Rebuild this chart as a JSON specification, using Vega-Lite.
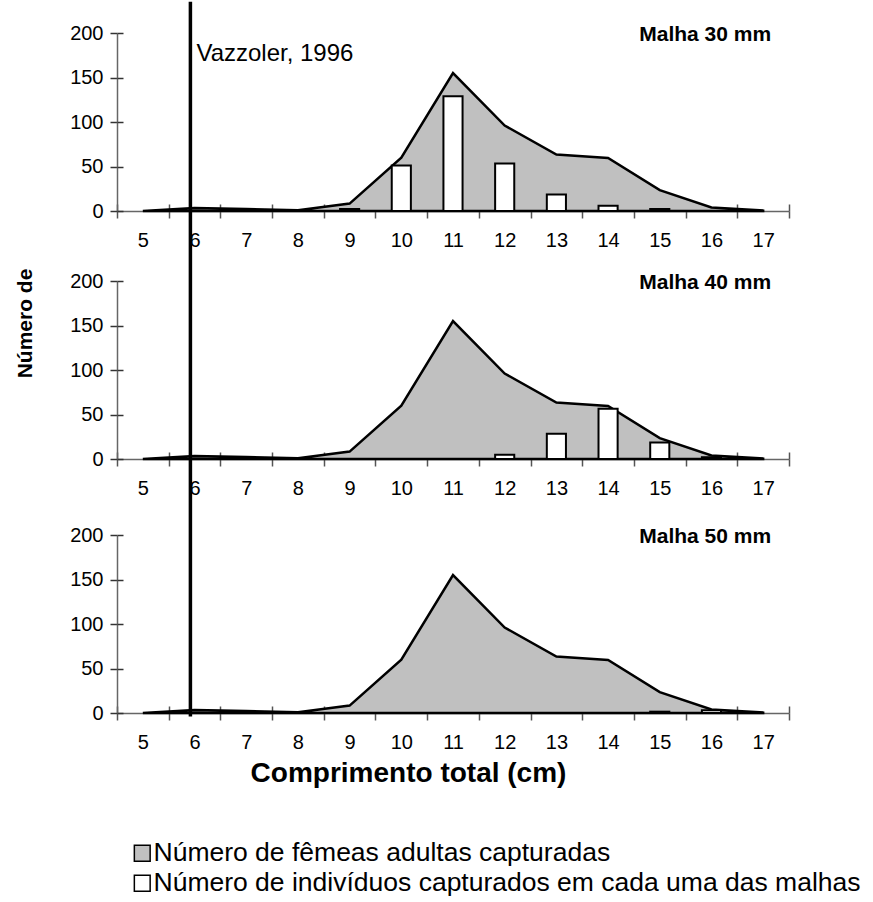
{
  "$schema": "https://vega.github.io/schema/vega-lite/v6.json",
  "autosize": {"type": "pad"},
  "padding": {"left": 13, "top": 0, "right": 10, "bottom": 10},
  "background": "white",
  "config": {
    "font": "Liberation Sans",
    "view": {"stroke": null},
    "axis": {"labelFont": "Liberation Sans", "titleFont": "Liberation Sans", "labelColor": "black", "titleColor": "black"},
    "legend": {"labelFont": "Liberation Sans"}
  },
  "datasets": {
    "femeas": [
      {"c": 5, "n": 0}, {"c": 6, "n": 3.4}, {"c": 7, "n": 2.3}, {"c": 8, "n": 0.8},
      {"c": 9, "n": 8.3}, {"c": 10, "n": 60}, {"c": 11, "n": 155}, {"c": 12, "n": 96},
      {"c": 13, "n": 63.5}, {"c": 14, "n": 59.5}, {"c": 15, "n": 23.5}, {"c": 16, "n": 4},
      {"c": 17, "n": 0.5}
    ],
    "malhas": [
      {"malha": "30 mm", "c": 9, "n": 2.3}, {"malha": "30 mm", "c": 10, "n": 51},
      {"malha": "30 mm", "c": 11, "n": 129}, {"malha": "30 mm", "c": 12, "n": 53.5},
      {"malha": "30 mm", "c": 13, "n": 18.4}, {"malha": "30 mm", "c": 14, "n": 6},
      {"malha": "30 mm", "c": 15, "n": 2.3},
      {"malha": "40 mm", "c": 12, "n": 4.9}, {"malha": "40 mm", "c": 13, "n": 28.5},
      {"malha": "40 mm", "c": 14, "n": 56.5}, {"malha": "40 mm", "c": 15, "n": 18.4},
      {"malha": "40 mm", "c": 16, "n": 2},
      {"malha": "50 mm", "c": 15, "n": 1.5}, {"malha": "50 mm", "c": 16, "n": 3}
    ],
    "referencia": [{"c": 6, "autor": "Vazzoler, 1996"}]
  },
  "bounds": "flush",
  "spacing": 70,
  "vconcat": [
    {
      "width": 672, "height": 178,
      "resolve": {"axis": {"x": "independent", "y": "independent"}},
      "layer": [
        {
          "data": {"name": "femeas"},
          "mark": {"type": "area", "stroke": "black", "strokeWidth": 2.5, "strokeJoin": "miter"},
          "encoding": {
            "x": {"field": "c", "type": "ordinal", "bandPosition": 0.5,
                  "scale": {"type": "band", "paddingInner": 0, "paddingOuter": 0, "domain": [5,6,7,8,9,10,11,12,13,14,15,16,17]},
                  "axis": {"orient": "bottom", "title": null, "tickBand": "extent", "labelAngle": 0, "tickSize": 7, "labelPadding": 12, "labelFontSize": 20, "domainColor": "#666", "domainWidth": 1.5, "tickColor": "#555", "tickWidth": 1.5, "grid": false}},
            "y": {"field": "n", "type": "quantitative", "scale": {"domain": [0, 200], "nice": false},
                  "axis": {"orient": "left", "title": null, "values": [0, 50, 100, 150, 200], "tickSize": 7, "labelPadding": 7, "labelFontSize": 20, "domainColor": "#666", "domainWidth": 1.5, "tickColor": "#333", "tickWidth": 1.5, "grid": false}},
            "fill": {"datum": "Número de fêmeas adultas capturadas", "type": "nominal",
                     "scale": {"domain": ["Número de fêmeas adultas capturadas", "Número de indivíduos capturados em cada uma das malhas"], "range": ["#c0c0c0", "#ffffff"]},
                     "legend": {"orient": "none", "legendX": 12, "legendY": 807, "direction": "vertical", "title": null, "symbolType": "square", "symbolSize": 250, "symbolStrokeColor": "#333", "symbolStrokeWidth": 1.5, "labelFontSize": 26.5, "labelLimit": 1000, "labelOffset": -2, "rowPadding": 3, "labelColor": "black"}}
          }
        },
        {
          "data": {"name": "malhas"},
          "transform": [{"filter": "datum.malha === '30 mm'"}],
          "mark": {"type": "bar", "stroke": "black", "strokeWidth": 2, "width": {"band": 0.37}},
          "encoding": {
            "x": {"field": "c", "type": "ordinal",
                  "axis": {"orient": "bottom", "title": null, "tickBand": "extent", "tickSize": -7, "labels": false, "domain": false, "tickColor": "#555", "tickWidth": 1.5, "grid": false}},
            "y": {"field": "n", "type": "quantitative",
                  "axis": {"orient": "left", "title": null, "values": [0, 50, 100, 150, 200], "tickSize": -6, "labels": false, "domain": false, "tickColor": "#333", "tickWidth": 1.5, "grid": false}},
            "fill": {"datum": "Número de indivíduos capturados em cada uma das malhas", "type": "nominal"}
          }
        },
        {
          "data": {"name": "referencia"},
          "mark": {"type": "rule", "stroke": "black", "strokeWidth": 3.5},
          "encoding": {
            "x": {"field": "c", "type": "ordinal", "bandPosition": 0.42, "axis": null},
            "y": {"datum": 235, "type": "quantitative", "axis": null},
            "y2": {"datum": 0}
          }
        },
        {
          "data": {"name": "referencia"},
          "mark": {"type": "text", "align": "left", "baseline": "alphabetic", "fontSize": 24, "dx": 6, "color": "black"},
          "encoding": {
            "x": {"field": "c", "type": "ordinal", "bandPosition": 0.42, "axis": null},
            "y": {"datum": 168, "type": "quantitative", "axis": null},
            "text": {"field": "autor"}
          }
        },
        {
          "data": {"values": [{}]},
          "mark": {"type": "text", "align": "right", "baseline": "alphabetic", "fontSize": 21, "fontWeight": "bold", "dx": 8, "color": "black"},
          "encoding": {
            "x": {"datum": 17, "type": "ordinal", "axis": null},
            "y": {"datum": 191, "type": "quantitative", "axis": null},
            "text": {"datum": "Malha 30 mm"}
          }
        }
      ]
    },
    {
      "bounds": "flush",
      "spacing": 76,
      "vconcat": [
        {
          "width": 672, "height": 178,
          "resolve": {"axis": {"x": "independent", "y": "independent"}},
          "layer": [
            {
              "data": {"name": "femeas"},
              "mark": {"type": "area", "stroke": "black", "strokeWidth": 2.5, "strokeJoin": "miter"},
              "encoding": {
                "x": {"field": "c", "type": "ordinal", "bandPosition": 0.5,
                      "scale": {"type": "band", "paddingInner": 0, "paddingOuter": 0, "domain": [5,6,7,8,9,10,11,12,13,14,15,16,17]},
                      "axis": {"orient": "bottom", "title": null, "tickBand": "extent", "labelAngle": 0, "tickSize": 7, "labelPadding": 12, "labelFontSize": 20, "domainColor": "#666", "domainWidth": 1.5, "tickColor": "#555", "tickWidth": 1.5, "grid": false}},
                "y": {"field": "n", "type": "quantitative", "scale": {"domain": [0, 200], "nice": false},
                      "axis": {"orient": "left", "title": "Número de", "titleFontSize": 21, "titleFontWeight": "bold", "titleAngle": -90, "titleX": -92, "titleY": 42, "titleBaseline": "middle", "titleAlign": "center",
                               "values": [0, 50, 100, 150, 200], "tickSize": 7, "labelPadding": 7, "labelFontSize": 20, "domainColor": "#666", "domainWidth": 1.5, "tickColor": "#333", "tickWidth": 1.5, "grid": false}},
                "fill": {"datum": "Número de fêmeas adultas capturadas", "type": "nominal"}
              }
            },
            {
              "data": {"name": "malhas"},
              "transform": [{"filter": "datum.malha === '40 mm'"}],
              "mark": {"type": "bar", "stroke": "black", "strokeWidth": 2, "width": {"band": 0.37}},
              "encoding": {
                "x": {"field": "c", "type": "ordinal",
                      "axis": {"orient": "bottom", "title": null, "tickBand": "extent", "tickSize": -7, "labels": false, "domain": false, "tickColor": "#555", "tickWidth": 1.5, "grid": false}},
                "y": {"field": "n", "type": "quantitative",
                      "axis": {"orient": "left", "title": null, "values": [0, 50, 100, 150, 200], "tickSize": -6, "labels": false, "domain": false, "tickColor": "#333", "tickWidth": 1.5, "grid": false}},
                "fill": {"datum": "Número de indivíduos capturados em cada uma das malhas", "type": "nominal"}
              }
            },
            {
              "data": {"name": "referencia"},
              "mark": {"type": "rule", "stroke": "black", "strokeWidth": 3.5},
              "encoding": {
                "x": {"field": "c", "type": "ordinal", "bandPosition": 0.42, "axis": null},
                "y": {"datum": 279, "type": "quantitative", "axis": null},
                "y2": {"datum": 0}
              }
            },
            {
              "data": {"values": [{}]},
              "mark": {"type": "text", "align": "right", "baseline": "alphabetic", "fontSize": 21, "fontWeight": "bold", "dx": 8, "color": "black"},
              "encoding": {
                "x": {"datum": 17, "type": "ordinal", "axis": null},
                "y": {"datum": 191, "type": "quantitative", "axis": null},
                "text": {"datum": "Malha 40 mm"}
              }
            }
          ]
        },
        {
          "width": 672, "height": 178,
          "resolve": {"axis": {"x": "independent", "y": "independent"}},
          "layer": [
            {
              "data": {"name": "femeas"},
              "mark": {"type": "area", "stroke": "black", "strokeWidth": 2.5, "strokeJoin": "miter"},
              "encoding": {
                "x": {"field": "c", "type": "ordinal", "bandPosition": 0.5,
                      "scale": {"type": "band", "paddingInner": 0, "paddingOuter": 0, "domain": [5,6,7,8,9,10,11,12,13,14,15,16,17]},
                      "axis": {"orient": "bottom", "title": "Comprimento total (cm)", "titleFontSize": 28, "titleFontWeight": "bold", "titleX": 291, "titlePadding": 7,
                               "tickBand": "extent", "labelAngle": 0, "tickSize": 7, "labelPadding": 12, "labelFontSize": 20, "domainColor": "#666", "domainWidth": 1.5, "tickColor": "#555", "tickWidth": 1.5, "grid": false}},
                "y": {"field": "n", "type": "quantitative", "scale": {"domain": [0, 200], "nice": false},
                      "axis": {"orient": "left", "title": null, "values": [0, 50, 100, 150, 200], "tickSize": 7, "labelPadding": 7, "labelFontSize": 20, "domainColor": "#666", "domainWidth": 1.5, "tickColor": "#333", "tickWidth": 1.5, "grid": false}},
                "fill": {"datum": "Número de fêmeas adultas capturadas", "type": "nominal"}
              }
            },
            {
              "data": {"name": "malhas"},
              "transform": [{"filter": "datum.malha === '50 mm'"}],
              "mark": {"type": "bar", "stroke": "black", "strokeWidth": 2, "width": {"band": 0.37}},
              "encoding": {
                "x": {"field": "c", "type": "ordinal",
                      "axis": {"orient": "bottom", "title": null, "tickBand": "extent", "tickSize": -7, "labels": false, "domain": false, "tickColor": "#555", "tickWidth": 1.5, "grid": false}},
                "y": {"field": "n", "type": "quantitative",
                      "axis": {"orient": "left", "title": null, "values": [0, 50, 100, 150, 200], "tickSize": -6, "labels": false, "domain": false, "tickColor": "#333", "tickWidth": 1.5, "grid": false}},
                "fill": {"datum": "Número de indivíduos capturados em cada uma das malhas", "type": "nominal"}
              }
            },
            {
              "data": {"name": "referencia"},
              "mark": {"type": "rule", "stroke": "black", "strokeWidth": 3.5},
              "encoding": {
                "x": {"field": "c", "type": "ordinal", "bandPosition": 0.42, "axis": null},
                "y": {"datum": 286, "type": "quantitative", "axis": null},
                "y2": {"datum": -4}
              }
            },
            {
              "data": {"values": [{}]},
              "mark": {"type": "text", "align": "right", "baseline": "alphabetic", "fontSize": 21, "fontWeight": "bold", "dx": 8, "color": "black"},
              "encoding": {
                "x": {"datum": 17, "type": "ordinal", "axis": null},
                "y": {"datum": 191, "type": "quantitative", "axis": null},
                "text": {"datum": "Malha 50 mm"}
              }
            }
          ]
        }
      ]
    }
  ]
}
